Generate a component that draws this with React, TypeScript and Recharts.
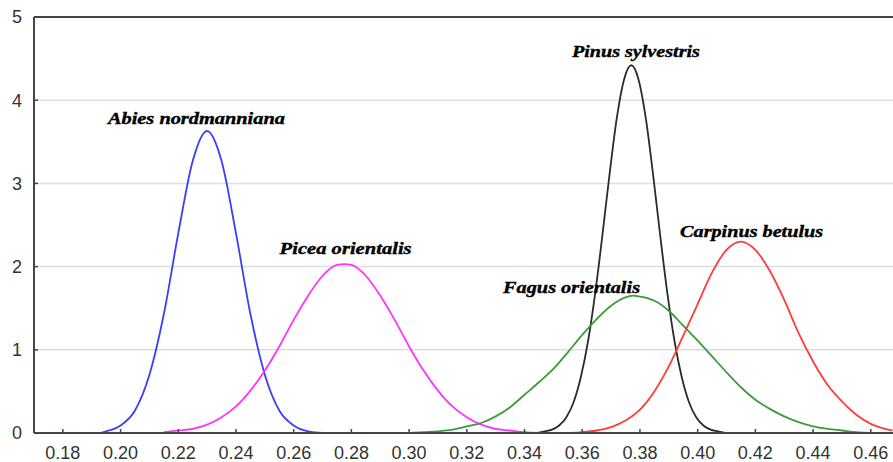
import { LineChart, Line, XAxis, YAxis, CartesianGrid, ReferenceDot } from "recharts";

// values
const abiesX = [0.193, 0.195, 0.2, 0.205, 0.21, 0.215, 0.22, 0.225, 0.23, 0.235, 0.24, 0.245, 0.25, 0.255, 0.26, 0.265, 0.27];
const abiesY = [0, 0.02, 0.09, 0.27, 0.7, 1.43, 2.4, 3.27, 3.63, 3.27, 2.4, 1.43, 0.7, 0.27, 0.09, 0.02, 0];

const piceaX = [0.215, 0.22, 0.225, 0.23, 0.235, 0.24, 0.245, 0.25, 0.255, 0.26, 0.265, 0.27, 0.275, 0.2775, 0.28, 0.285, 0.29, 0.295, 0.3, 0.305, 0.31, 0.315, 0.32, 0.325, 0.33, 0.335, 0.34, 0.345];
const piceaY = [0.01, 0.03, 0.05, 0.1, 0.19, 0.32, 0.51, 0.75, 1.04, 1.36, 1.65, 1.89, 2.02, 2.03, 2.02, 1.89, 1.65, 1.36, 1.04, 0.75, 0.51, 0.32, 0.19, 0.1, 0.05, 0.03, 0.01, 0];

const pinusX = [0.3445, 0.347, 0.3495, 0.352, 0.3545, 0.357, 0.3595, 0.362, 0.3645, 0.367, 0.3695, 0.372, 0.3745, 0.377, 0.3795, 0.382, 0.3845, 0.387, 0.3895, 0.392, 0.3945, 0.397, 0.3995, 0.402, 0.4045, 0.407, 0.4095];
const pinusY = [0, 0.02, 0.04, 0.09, 0.19, 0.37, 0.67, 1.1, 1.68, 2.38, 3.12, 3.79, 4.25, 4.42, 4.25, 3.79, 3.12, 2.38, 1.68, 1.1, 0.67, 0.37, 0.19, 0.09, 0.04, 0.02, 0];

const fagusX = [0.3, 0.305, 0.31, 0.315, 0.32, 0.325, 0.33, 0.335, 0.34, 0.345, 0.35, 0.355, 0.36, 0.365, 0.37, 0.375, 0.3775, 0.38, 0.385, 0.39, 0.395, 0.4, 0.405, 0.41, 0.415, 0.42, 0.425, 0.43, 0.435, 0.44, 0.445, 0.45, 0.455, 0.46];
const fagusY = [0, 0.01, 0.02, 0.04, 0.08, 0.12, 0.2, 0.31, 0.46, 0.61, 0.77, 0.97, 1.18, 1.37, 1.53, 1.63, 1.65, 1.64, 1.59, 1.47, 1.29, 1.11, 0.92, 0.73, 0.55, 0.4, 0.29, 0.2, 0.13, 0.08, 0.05, 0.03, 0.01, 0];

const carpinusX = [0.355, 0.36, 0.365, 0.37, 0.375, 0.38, 0.385, 0.39, 0.395, 0.4, 0.405, 0.41, 0.415, 0.42, 0.425, 0.43, 0.435, 0.44, 0.445, 0.45, 0.455, 0.46, 0.465, 0.4675];
const carpinusY = [0, 0.01, 0.03, 0.07, 0.15, 0.28, 0.5, 0.8, 1.17, 1.55, 1.93, 2.2, 2.3, 2.2, 1.95, 1.6, 1.2, 0.86, 0.58, 0.38, 0.22, 0.11, 0.05, 0.03];

const xTicks = [0.18, 0.2, 0.22, 0.24, 0.26, 0.28, 0.3, 0.32, 0.34, 0.36, 0.38, 0.4, 0.42, 0.44, 0.46];
const yTicks = [0, 1, 2, 3, 4, 5];

// species names and where their labels sit (data coords of text baseline centre)
const labelNames = ["Abies nordmanniana", "Picea orientalis", "Pinus sylvestris", "Fagus orientalis", "Carpinus betulus"];
const labelX = [0.2263, 0.278, 0.3786, 0.3563, 0.4187];
const labelY = [3.714, 2.151, 4.523, 1.686, 2.36];
const labelWidths = [177, 132, 128, 137, 143];

const toPoints = (xs: number[], ys: number[]) => xs.map((x, i) => ({ x, y: ys[i] }));

const series = [
  { name: "Abies nordmanniana", data: toPoints(abiesX, abiesY), color: "#3d3dff" },
  { name: "Picea orientalis", data: toPoints(piceaX, piceaY), color: "#ff33ff" },
  { name: "Pinus sylvestris", data: toPoints(pinusX, pinusY), color: "#2b2b2b" },
  { name: "Fagus orientalis", data: toPoints(fagusX, fagusY), color: "#3c9c3c" },
  { name: "Carpinus betulus", data: toPoints(carpinusX, carpinusY), color: "#ff3b3b" },
];

const axisColor = "#444";
const tickStyle = { fontSize: 18, fill: "#333", fontFamily: "'Liberation Sans', Arial, sans-serif" };

function SpeciesLabel(props: any) {
  const { viewBox, text, width } = props;
  return (
    <text
      x={viewBox.x}
      y={viewBox.y}
      textAnchor="middle"
      fontFamily="'Liberation Serif', 'Times New Roman', serif"
      fontStyle="italic"
      fontWeight="bold"
      fontSize={17}
      fill="#000"
      stroke="#000"
      strokeWidth={0.4}
      textLength={width}
      lengthAdjust="spacingAndGlyphs"
    >
      {text}
    </text>
  );
}

export default function App() {
  return (
    <div style={{ position: "absolute", left: 0, top: 0, background: "#fff" }}>
      <LineChart width={893} height={462} margin={{ top: 0, right: 0, bottom: 0, left: 0 }}>
        <CartesianGrid vertical={false} stroke="#dedede" strokeWidth={1.5} />
        <XAxis
          type="number"
          dataKey="x"
          domain={[0.17, 0.4677]}
          allowDataOverflow
          ticks={xTicks}
          tickFormatter={(v: number) => v.toFixed(2)}
          height={29}
          tickSize={-4}
          tickMargin={17}
          tick={tickStyle}
          axisLine={{ stroke: axisColor, strokeWidth: 2 }}
          tickLine={{ stroke: axisColor, strokeWidth: 1.5 }}
          interval={0}
        />
        <XAxis
          xAxisId="top"
          orientation="top"
          type="number"
          dataKey="x"
          domain={[0.17, 0.4677]}
          allowDataOverflow
          ticks={xTicks}
          height={17}
          tickSize={-4}
          tick={false}
          axisLine={{ stroke: axisColor, strokeWidth: 2 }}
          tickLine={{ stroke: axisColor, strokeWidth: 1.5 }}
          interval={0}
        />
        <YAxis
          type="number"
          domain={[0, 5]}
          ticks={yTicks}
          width={34}
          tickSize={-4}
          tickMargin={16}
          tick={tickStyle}
          axisLine={{ stroke: axisColor, strokeWidth: 2 }}
          tickLine={{ stroke: axisColor, strokeWidth: 1.5 }}
          interval={0}
        />
        {series.map((s) => (
          <Line
            key={s.name}
            data={s.data}
            dataKey="y"
            name={s.name}
            type="monotone"
            stroke={s.color}
            strokeWidth={1.8}
            dot={false}
            activeDot={false}
            isAnimationActive={false}
          />
        ))}
        {labelNames.map((name, i) => (
          <ReferenceDot
            key={name}
            x={labelX[i]}
            y={labelY[i]}
            r={0}
            fill="none"
            stroke="none"
            label={<SpeciesLabel text={name} width={labelWidths[i]} />}
          />
        ))}
      </LineChart>
    </div>
  );
}
